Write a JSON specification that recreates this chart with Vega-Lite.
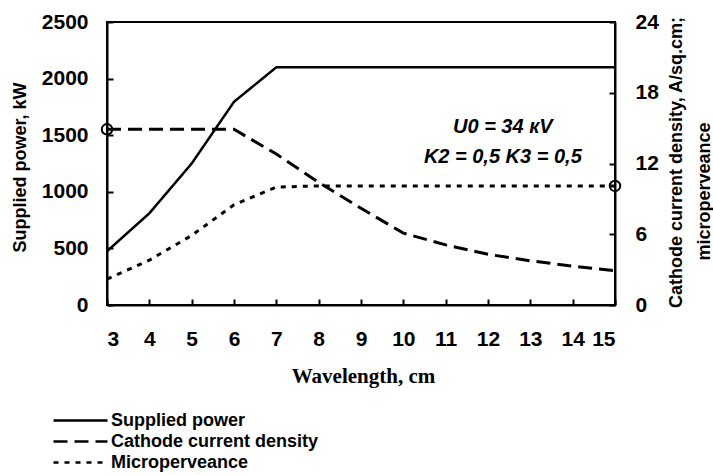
{
  "$schema": "https://vega.github.io/schema/vega-lite/v6.json",
  "width": 508,
  "height": 283,
  "autosize": "none",
  "padding": {"left": 107, "top": 22, "right": 98, "bottom": 170},
  "background": "white",
  "title": {"text": "microperveance", "orient": "right", "angle": 270, "anchor": "middle", "frame": "group",
    "baseline": "middle", "offset": 2, "dx": -28, "fontSize": 18, "fontWeight": "bold", "font": "Liberation Sans", "color": "black"},
  "config": {
    "view": {"stroke": "black", "strokeWidth": 2},
    "font": "Liberation Sans",
    "axis": {
      "grid": false,
      "domainColor": "black",
      "domainWidth": 2,
      "tickColor": "black",
      "tickWidth": 2,
      "tickSize": -6,
      "format": "d",
      "labelFont": "Liberation Sans",
      "labelFontWeight": "bold",
      "labelFontSize": 21,
      "labelColor": "black",
      "titleColor": "black"
    },
    "legend": {
      "orient": "none",
      "legendX": -37,
      "legendY": 388,
      "title": null,
      "symbolType": "M-3,0H3",
      "symbolSize": 324,
      "symbolStrokeWidth": 2.5,
      "symbolStrokeColor": "black",
      "symbolFillColor": "transparent",
      "labelFont": "Liberation Sans",
      "labelFontWeight": "bold",
      "labelFontSize": 18,
      "labelColor": "black",
      "labelLimit": 400,
      "labelOffset": 20,
      "rowPadding": 1
    }
  },
  "datasets": {
    "series": [
      {"wl": 3, "series": "Supplied power", "value": 475},
      {"wl": 4, "series": "Supplied power", "value": 810},
      {"wl": 5, "series": "Supplied power", "value": 1250},
      {"wl": 6, "series": "Supplied power", "value": 1795},
      {"wl": 7, "series": "Supplied power", "value": 2100},
      {"wl": 8, "series": "Supplied power", "value": 2100},
      {"wl": 9, "series": "Supplied power", "value": 2100},
      {"wl": 10, "series": "Supplied power", "value": 2100},
      {"wl": 11, "series": "Supplied power", "value": 2100},
      {"wl": 12, "series": "Supplied power", "value": 2100},
      {"wl": 13, "series": "Supplied power", "value": 2100},
      {"wl": 14, "series": "Supplied power", "value": 2100},
      {"wl": 15, "series": "Supplied power", "value": 2100},
      {"wl": 3, "series": "Cathode current density", "value": 14.9},
      {"wl": 4, "series": "Cathode current density", "value": 14.9},
      {"wl": 5, "series": "Cathode current density", "value": 14.9},
      {"wl": 6, "series": "Cathode current density", "value": 14.9},
      {"wl": 7, "series": "Cathode current density", "value": 12.8},
      {"wl": 8, "series": "Cathode current density", "value": 10.4},
      {"wl": 9, "series": "Cathode current density", "value": 8.2},
      {"wl": 10, "series": "Cathode current density", "value": 6.1},
      {"wl": 11, "series": "Cathode current density", "value": 5.1},
      {"wl": 12, "series": "Cathode current density", "value": 4.3},
      {"wl": 13, "series": "Cathode current density", "value": 3.75},
      {"wl": 14, "series": "Cathode current density", "value": 3.3},
      {"wl": 15, "series": "Cathode current density", "value": 2.9},
      {"wl": 3, "series": "Microperveance", "value": 2.2},
      {"wl": 4, "series": "Microperveance", "value": 3.8},
      {"wl": 5, "series": "Microperveance", "value": 5.9},
      {"wl": 6, "series": "Microperveance", "value": 8.5},
      {"wl": 7, "series": "Microperveance", "value": 10.0},
      {"wl": 8, "series": "Microperveance", "value": 10.1},
      {"wl": 9, "series": "Microperveance", "value": 10.1},
      {"wl": 10, "series": "Microperveance", "value": 10.1},
      {"wl": 11, "series": "Microperveance", "value": 10.1},
      {"wl": 12, "series": "Microperveance", "value": 10.1},
      {"wl": 13, "series": "Microperveance", "value": 10.1},
      {"wl": 14, "series": "Microperveance", "value": 10.1},
      {"wl": 15, "series": "Microperveance", "value": 10.1}
    ],
    "markers": [
      {"wl": 3, "value": 14.9},
      {"wl": 15, "value": 10.1}
    ],
    "notes": [
      {"wl": 12.35, "value": 1572, "label": "U0 = 34 кV"},
      {"wl": 12.35, "value": 1307, "label": "K2 = 0,5 K3 = 0,5"}
    ]
  },
  "layer": [
    {
      "layer": [
        {
          "data": {"name": "series"},
          "transform": [{"filter": "datum.series === 'Supplied power'"}],
          "mark": {"type": "line", "color": "black", "strokeWidth": 2.5},
          "encoding": {
            "x": {"field": "wl", "type": "quantitative",
              "scale": {"domain": [3, 15], "nice": false, "zero": false},
              "axis": {"values": [3,4,5,6,7,8,9,10,11,12,13,14,15], "labelPadding": 29, "title": "Wavelength, cm",
                "titleFont": "Liberation Serif", "titleFontSize": 21, "titleFontWeight": "bold",
                "titleX": 256, "titleY": 71, "titleBaseline": "middle"}},
            "y": {"field": "value", "type": "quantitative",
              "scale": {"domain": [0, 2500], "nice": false},
              "axis": {"orient": "left", "values": [0,500,1000,1500,2000,2500], "labelPadding": 25,
                "title": "Supplied power, kW", "titleFontSize": 18, "titleFontWeight": "bold",
                "titleX": -87, "titleY": 145, "titleBaseline": "middle", "titleAngle": -90}},
            "strokeDash": {"field": "series", "type": "nominal",
              "scale": {"domain": ["Supplied power", "Cathode current density", "Microperveance"],
                "range": [[1, 0], [14, 7], [5, 6]]}}
          }
        },
        {
          "data": {"name": "notes"},
          "mark": {"type": "text", "fontSize": 20, "fontWeight": "bold", "fontStyle": "italic", "align": "center", "baseline": "middle", "color": "black"},
          "encoding": {
            "x": {"field": "wl", "type": "quantitative"},
            "y": {"field": "value", "type": "quantitative"},
            "text": {"field": "label"}
          }
        }
      ]
    },
    {
      "layer": [
        {
          "data": {"name": "series"},
          "transform": [{"filter": "datum.series !== 'Supplied power'"}],
          "mark": {"type": "line", "color": "black", "strokeWidth": 3},
          "encoding": {
            "x": {"field": "wl", "type": "quantitative"},
            "y": {"field": "value", "type": "quantitative",
              "scale": {"domain": [0, 24], "nice": false},
              "axis": {"orient": "right", "values": [0,6,12,18,24], "labelPadding": 26,
                "title": "Cathode current density, A/sq.cm;",
                "titleFontSize": 18, "titleFontWeight": "bold", "titleAngle": 270,
                "titleX": 61, "titleY": 140, "titleBaseline": "middle"}},
            "strokeDash": {"field": "series", "type": "nominal"}
          }
        },
        {
          "data": {"name": "markers"},
          "mark": {"type": "point", "shape": "circle", "filled": false, "color": "black", "strokeWidth": 2, "size": 110, "opacity": 1},
          "encoding": {
            "x": {"field": "wl", "type": "quantitative"},
            "y": {"field": "value", "type": "quantitative"}
          }
        }
      ]
    }
  ],
  "resolve": {"scale": {"y": "independent"}}
}
